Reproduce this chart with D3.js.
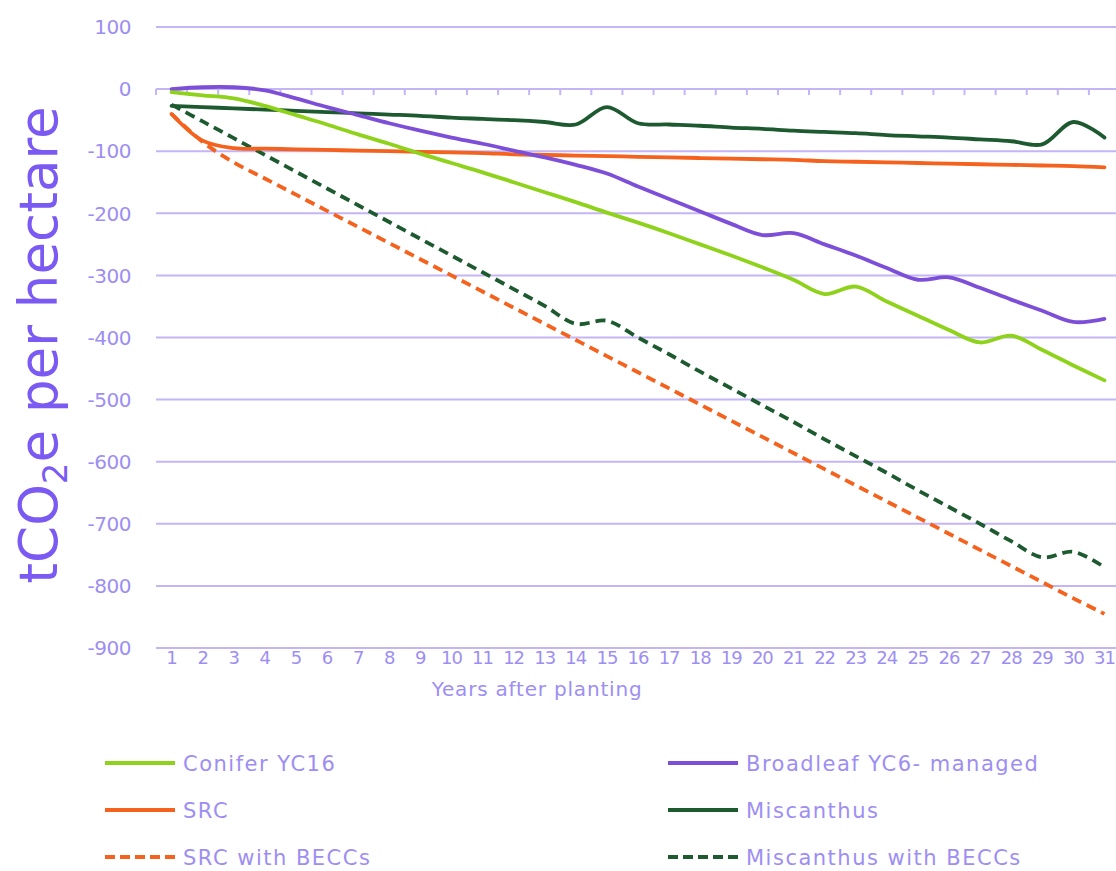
<!DOCTYPE html>
<html><head><meta charset="utf-8">
<script src="https://cdn.jsdelivr.net/npm/d3@7"></script>
<style>
body{margin:0;background:#fff;}
text{font-family:"DejaVu Sans","Noto Sans",sans-serif;}
</style></head>
<body>
<svg id="chart" width="1116" height="871"></svg>
<script>
const years = d3.range(1, 32);
const yTicks = [100, 0, -100, -200, -300, -400, -500, -600, -700, -800, -900];
const conifer = [-5,-10,-15,-27,-42,-57,-73,-88,-104,-119,-134,-150,-166,-182,-199,-215,-232,-250,-268,-287,-307,-330,-318,-342,-365,-388,-408,-397,-420,-445,-469];
const broadleaf = [0,3,3,-2,-15,-29,-42,-55,-67,-78,-88,-99,-110,-122,-136,-157,-177,-197,-217,-235,-232,-250,-268,-288,-307,-303,-320,-339,-357,-375,-370];
const src = [-40,-83,-95,-96,-97,-98,-99,-100,-101,-102,-103,-105,-106,-107,-108,-109,-110,-111,-112,-113,-114,-116,-117,-118,-119,-120,-121,-122,-123,-124,-126];
const miscanthus = [-27,-29,-31,-33,-35,-37,-39,-41,-43,-46,-48,-50,-53,-57,-29,-55,-57,-59,-62,-64,-67,-69,-71,-74,-76,-78,-81,-84,-89,-53,-78];
const srcBeccs = [-40,-85,-118,-144,-170,-196,-222,-248,-274,-300,-326,-352,-378,-404,-430,-456,-482,-508,-534,-560,-586,-612,-638,-664,-690,-716,-742,-768,-794,-820,-845];
const miscBeccs = [-25,-52,-79,-106,-133,-160,-187,-214,-241,-268,-295,-322,-349,-378,-373,-400,-427,-455,-482,-509,-536,-564,-591,-618,-646,-673,-700,-728,-754,-745,-770];

const seriesNames = ["Conifer YC16","Broadleaf YC6- managed","SRC","Miscanthus","SRC with BECCs","Miscanthus with BECCs"];
const seriesData = [conifer, broadleaf, src, miscanthus, srcBeccs, miscBeccs];
const seriesColors = ["#8ed21c","#7d4fd8","#f4621d","#1e5a30","#f4621d","#1e5a30"];
const seriesDashed = [false,false,false,false,true,true];

const svg = d3.select("#chart");
const x = d3.scaleBand().domain(years).range([156, 1120]).padding(0);
const y = d3.scaleLinear().domain([-900, 100]).range([648, 27]);
const gridColor = "#c3b5f6";
const labelColor = "#9d8ef3";

// gridlines
svg.append("g").selectAll("line").data(yTicks).join("line")
  .attr("x1", 156).attr("x2", 1116)
  .attr("y1", d => y(d)).attr("y2", d => y(d))
  .attr("stroke", gridColor).attr("stroke-width", 2);

// y tick labels
svg.append("g").selectAll("text").data(yTicks).join("text")
  .attr("x", 131).attr("y", d => y(d)).attr("dy", "0.36em")
  .attr("text-anchor", "end").attr("fill", labelColor)
  .attr("font-size", 20).attr("letter-spacing", -0.5).text(d => d);

// x axis at 0 with tick marks at category boundaries
const gx = svg.append("g").attr("transform", `translate(0,${y(0)})`);
gx.selectAll("line.tk").data(d3.range(0, 32)).join("line").attr("class","tk")
  .attr("x1", i => x.range()[0] + i * x.step()).attr("x2", i => x.range()[0] + i * x.step())
  .attr("y1", 0).attr("y2", 6).attr("stroke", gridColor).attr("stroke-width", 2);

// x labels at bottom
svg.append("g").selectAll("text").data(years).join("text")
  .attr("x", d => x(d) + x.bandwidth() / 2).attr("y", 658).attr("dy", "0.36em")
  .attr("text-anchor", "middle").attr("fill", labelColor)
  .attr("font-size", 18).attr("letter-spacing", -1).text(d => d);

svg.append("text").attr("x", 537).attr("y", 689).attr("dy", "0.36em")
  .attr("text-anchor", "middle").attr("fill", labelColor).attr("font-size", 20)
  .attr("letter-spacing", 0.8)
  .text("Years after planting");

// y title
const yt = svg.append("text").attr("transform", "translate(57,345) rotate(-90)")
  .attr("text-anchor", "middle").attr("fill", "#7a5af2").attr("font-size", 53);
yt.append("tspan").text("tCO");
yt.append("tspan").attr("font-size", 34).attr("dy", 10).text("2");
yt.append("tspan").attr("dy", -10).text("e per hectare");

// lines
const line = d3.line().x((d, i) => x(years[i]) + x.bandwidth() / 2).y(d => y(d))
  .curve(d3.curveCatmullRom.alpha(0.5));
const order = [4, 5, 2, 3, 1, 0];
order.forEach(k => {
  svg.append("path").datum(seriesData[k]).attr("d", line)
    .attr("fill", "none").attr("stroke", seriesColors[k]).attr("stroke-width", 3.8)
    .attr("stroke-linecap", seriesDashed[k] ? "butt" : "round")
    .attr("stroke-dasharray", seriesDashed[k] ? "10,6" : null);
});

// legend
const legPos = [[105,763],[668,763],[105,810],[668,810],[105,857],[668,857]];
seriesNames.forEach((name, k) => {
  const [lx, ly] = legPos[k];
  svg.append("line").attr("x1", lx).attr("x2", lx + 70).attr("y1", ly).attr("y2", ly)
    .attr("stroke", seriesColors[k]).attr("stroke-width", 4)
    .attr("stroke-dasharray", seriesDashed[k] ? "10,5" : null);
  svg.append("text").attr("x", lx + 78).attr("y", ly).attr("dy", "0.36em")
    .attr("fill", labelColor).attr("font-size", 21).attr("letter-spacing", 1.5).text(name);
});
</script>
</body></html>
